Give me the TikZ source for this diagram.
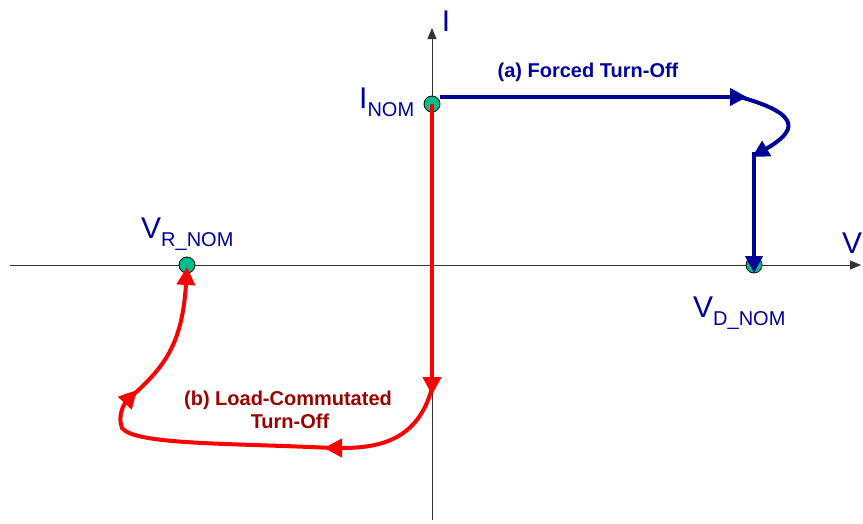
\documentclass[tikz,border=0pt]{standalone}
\usepackage{fontspec}
\setmainfont{Liberation Sans}
\usetikzlibrary{arrows.meta}
\definecolor{navy}{RGB}{0,0,153}
\definecolor{dred}{RGB}{153,0,0}
\definecolor{teal2}{RGB}{0,190,140}
\definecolor{lblue}{RGB}{0,0,160}
\newcommand{\mysub}[1]{\raisebox{-8pt}{\fontsize{20}{24}\selectfont #1}}
\tikzset{
  axisline/.style={draw=black!80, line width=1pt, -{Triangle[length=11pt,width=9pt]}},
  dot/.style={circle, draw=black, fill=teal2, line width=0.8pt, minimum size=16pt, inner sep=0pt},
  biglabel/.style={text=lblue, font=\fontsize{30}{36}\selectfont, inner sep=0pt},
  bluearrow/.style={draw=navy, line width=4pt, -{Triangle[length=17pt,width=17pt]}},
  redarrow/.style={draw=red, line width=4pt, -{Triangle[length=18pt,width=18pt]}},
  ttitle/.style={font=\fontsize{20}{24}\selectfont\bfseries, inner sep=0pt, align=center},
}
\begin{document}
\begin{tikzpicture}[x=1pt,y=-1pt]
\useasboundingbox (0,0) rectangle (863,523);
% axes
\coordinate (xs) at (10,265);
\coordinate (xe) at (861,265);
\coordinate (ys) at (432,520);
\coordinate (ye) at (432,28);
\draw[axisline] (xs) -- (xe);
\draw[axisline] (ys) -- (ye);
% axis labels
\node[biglabel] (Ilab) at (446,21) {I};
\node[biglabel] (Vlab) at (852,243) {V};
% dots
\node[dot] (inom) at (432,104) {};
\node[dot] (vrnom) at (187,265) {};
\node[dot] (vdnom) at (754,265) {};
% point labels
\node[biglabel, anchor=base west] (inomlab) at (359,108) {I\mysub{NOM}};
\node[biglabel, anchor=base west] (vrnomlab) at (141,238) {V\mysub{R\_NOM}};
\node[biglabel, anchor=base west] (vdnomlab) at (693,317) {V\mysub{D\_NOM}};
% titles
\node[ttitle, text=lblue, anchor=base] (ta) at (588,77) {(a) Forced Turn-Off};
\node[ttitle, text=dred, anchor=base] (tb1) at (288,405) {(b) Load-Commutated};
\node[ttitle, text=dred, anchor=base] (tb2) at (290,428) {Turn-Off};
% blue path
\coordinate (b0) at (440,97);
\coordinate (b1) at (747,97);
\coordinate (b2) at (752,157);
\coordinate (b3) at (754,273);
\draw[bluearrow] (b0) -- (b1);
\draw[bluearrow] (740,97) .. controls (805,115) and (795,132) .. (b2);
\draw[bluearrow] (754,152) -- (b3);
% red path
\coordinate (r1) at (432,395);
\coordinate (r2) at (324,448);
\coordinate (r3) at (137,390);
\coordinate (r4) at (187,267);
\draw[redarrow] (inom.center) -- (r1);
\draw[redarrow] (432,388) .. controls (418,440) and (380,448) .. (r2);
\draw[redarrow] (332,448) .. controls (230,443) and (135,445) .. (122,428) .. controls (117,415) and (125,403) .. (r3);
\draw[redarrow] (130,398) .. controls (160,370) and (182,350) .. (r4);
\end{tikzpicture}
\end{document}
